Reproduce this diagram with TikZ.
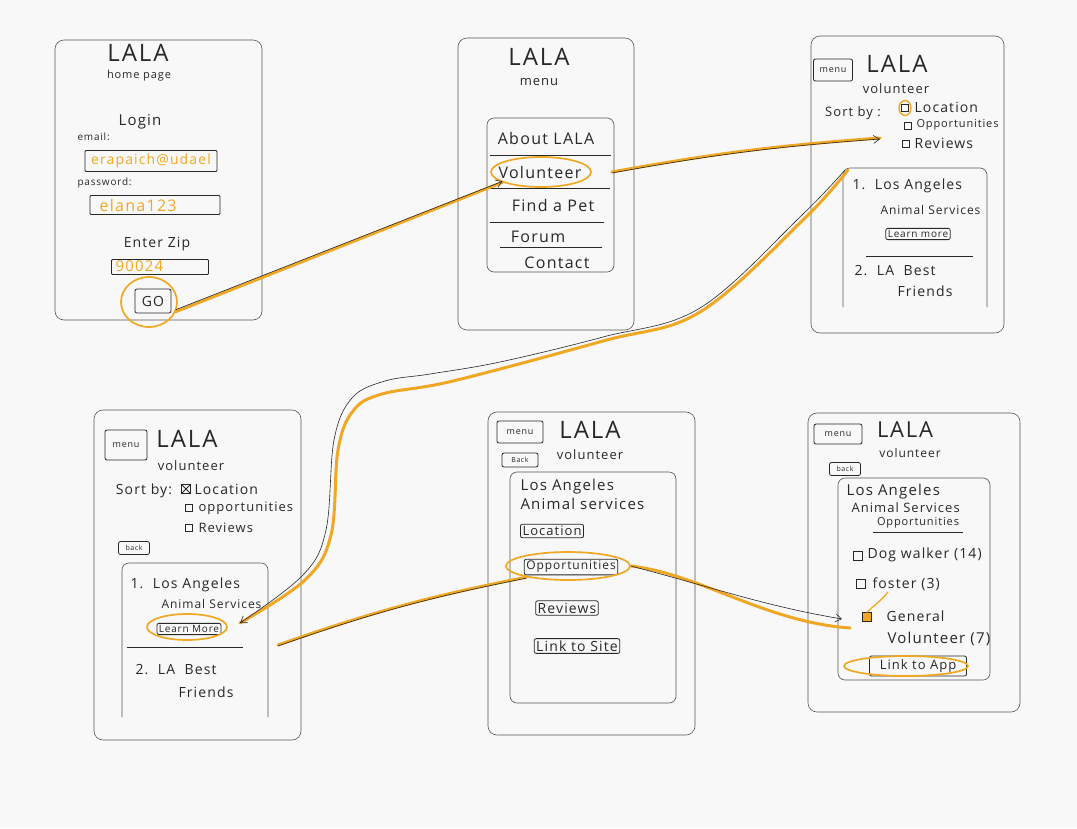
\documentclass[tikz,border=0pt]{standalone}
\usepackage{fontspec}
\setmainfont{Open Sans}[LetterSpace=8]
\usetikzlibrary{shapes.geometric,arrows.meta}
\definecolor{hl}{RGB}{240,168,36}
\definecolor{pen}{RGB}{40,40,40}
\definecolor{framec}{RGB}{85,85,85}
\definecolor{paper}{RGB}{248,248,248}
\newcommand{\fs}[1]{\fontsize{#1}{#1}\selectfont}
\begin{document}
\begin{tikzpicture}[x=1pt,y=-1pt,
 screenframe/.style={draw=framec, line width=0.6pt, rounded corners=9pt},
 innerbox/.style={draw=framec, line width=0.6pt, rounded corners=7pt},
 btn/.style={draw=pen, line width=0.8pt, rounded corners=2pt, inner sep=2pt, font=\fs{11}, text=pen},
 smallbtn/.style={btn, font=\fs{7}, inner sep=1.5pt},
 logo/.style={font=\fs{24}, text=pen},
 sub/.style={font=\fs{13}, text=pen},
 lbl/.style={font=\fs{14}, text=pen},
 item/.style={font=\fs{16}, text=pen},
 tiny/.style={font=\fs{10}, text=pen},
 field/.style={draw=pen, line width=0.8pt, rounded corners=1pt, inner sep=0pt},
 filledtxt/.style={font=\fs{15}, text=hl},
 ring/.style={draw=hl, line width=1.7pt, ellipse, inner sep=0pt},
 hlpath/.style={draw=hl, line width=3pt, line cap=round, line join=round},
 penpath/.style={draw=pen, line width=0.6pt},
 pentip/.style={penpath, -{Straight Barb[length=6pt,width=8pt]}},
 cbox/.style={draw=pen, line width=0.8pt, minimum size=7pt, inner sep=0pt},
 divider/.style={draw=pen, line width=0.7pt},
 ]
\fill[paper] (0,0) rectangle (1077,828);
\useasboundingbox (0,0) rectangle (1077,828);

% ---------------- Screen 1: home page ----------------
\draw[screenframe] (55,40) rectangle (262,320);
\node[logo] (s1logo) at (138,53) {LALA};
\node[font=\fs{11}, text=pen] (s1sub) at (139,76) {home page};
\node[font=\fs{15}, text=pen] (s1login) at (140,122) {Login};
\node[tiny,anchor=west] (s1email) at (74,137) {email:};
\node[field, minimum width=132pt, minimum height=21pt] (s1emailbox) at (151,161) {};
\node[filledtxt, font=\fs{14}] (s1emailtxt) at (151,161) {erapaich@udael};
\node[tiny,anchor=west] (s1pw) at (74,183) {password:};
\node[field, minimum width=130pt, minimum height=19pt] (s1pwbox) at (155,205) {};
\node[filledtxt, font=\fs{16}, anchor=west] (s1pwtxt) at (96,205) {elana123};
\node[font=\fs{14}, text=pen] (s1zip) at (157,244) {Enter Zip};
\node[field, minimum width=97pt, minimum height=15pt] (s1zipbox) at (160,267) {};
\node[filledtxt, anchor=west, font=\fs{15}] (s1ziptxt) at (112,266) {90024};
\node[btn, font=\fs{14}, minimum width=36pt, minimum height=24pt] (s1go) at (153,301) {GO};
\node[ring, minimum width=56pt, minimum height=50pt] (s1goring) at (149,302) {};

% ---------------- Screen 2: menu ----------------
\draw[screenframe] (458,38) rectangle (634,330);
\node[logo] (s2logo) at (539,57) {LALA};
\node[sub] (s2sub) at (539,82) {menu};
\draw[innerbox] (487,118) rectangle (614,272);
\node[item] (s2about) at (546,138) {About LALA};
\draw[divider] (490,155) -- (611,155);
\node[item] (s2vol) at (540,172) {Volunteer};
\draw[divider] (490,188) -- (610,188);
\node[item] (s2pet) at (553,205) {Find a Pet};
\draw[divider] (490,222) -- (604,222);
\node[item] (s2forum) at (538,237) {Forum};
\draw[divider] (500,247) -- (602,247);
\node[item] (s2contact) at (557,263) {Contact};
\node[ring, minimum width=100pt, minimum height=30pt] (s2volring) at (541,172) {};

% ---------------- Screen 3: volunteer list ----------------
\draw[screenframe] (811,36) rectangle (1004,333);
\node[smallbtn, font=\fs{9}, minimum width=39pt, minimum height=22pt] (s3menu) at (833,70) {menu};
\node[logo] (s3logo) at (897,64) {LALA};
\node[sub] (s3sub) at (896,89) {volunteer};
\node[font=\fs{13}, text=pen] (s3sort) at (853,113) {Sort by :};
\node[cbox] (s3cb1) at (905,108) {};
\node[ring, line width=1.4pt, minimum width=12pt, minimum height=15pt] (s3cb1ring) at (905,108) {};
\node[font=\fs{14}, text=pen, anchor=west] (s3loc) at (911,107) {Location};
\node[cbox] (s3cb2) at (908,126) {};
\node[font=\fs{11}, text=pen, anchor=west] (s3opp) at (913,125) {Opportunities};
\node[cbox] (s3cb3) at (906,144) {};
\node[font=\fs{14}, text=pen, anchor=west] (s3rev) at (911,143) {Reviews};
\draw[innerbox] (843,307) -- (843,168) -- (987,168) -- (987,307);
\coordinate (s3corner) at (848,170);
\node[lbl, anchor=west] (s3item1) at (849,186) {1.\ \ Los Angeles};
\node[font=\fs{12}, text=pen, anchor=west] (s3item1b) at (877,210) {Animal Services};
\node[btn, font=\fs{10}] (s3learn) at (918,234) {Learn more};
\draw[divider] (866,256) -- (973,256);
\node[lbl, anchor=west] (s3item2) at (851,271) {2.\ \ LA\ \ Best};
\node[lbl] (s3item2b) at (925,291) {Friends};

% ---------------- Screen 4: volunteer sorted ----------------
\draw[screenframe] (94,410) rectangle (301,740);
\node[smallbtn, font=\fs{9}, minimum width=42pt, minimum height=30pt] (s4menu) at (126,445) {menu};
\node[logo] (s4logo) at (187,439) {LALA};
\node[sub] (s4sub) at (191,466) {volunteer};
\node[font=\fs{14}, text=pen] (s4sort) at (144,491) {Sort by:};
\node[cbox, minimum size=9pt] (s4cb1) at (186,489) {};
\draw[pen, line width=1pt] (s4cb1.north west) -- (s4cb1.south east) (s4cb1.north east) -- (s4cb1.south west);
\node[font=\fs{14}, text=pen, anchor=west] (s4loc) at (191,489) {Location};
\node[cbox] (s4cb2) at (189,508) {};
\node[font=\fs{13}, text=pen, anchor=west] (s4opp) at (195,508) {opportunities};
\node[cbox] (s4cb3) at (189,528) {};
\node[font=\fs{13}, text=pen, anchor=west] (s4rev) at (195,528) {Reviews};
\node[smallbtn, minimum width=31pt, minimum height=13pt] (s4back) at (134,548) {back};
\draw[innerbox] (122,717) -- (122,563) -- (268,563) -- (268,717);
\node[lbl, anchor=west] (s4item1) at (127,585) {1.\ \ Los Angeles};
\node[font=\fs{12}, text=pen, anchor=west] (s4item1b) at (158,604) {Animal Services};
\node[btn, font=\fs{10}] (s4learn) at (189,629) {Learn More};
\node[ring, minimum width=80pt, minimum height=26pt] (s4learnring) at (187,627) {};
\draw[divider] (127,647) -- (243,647);
\node[lbl, anchor=west] (s4item2) at (132,670) {2.\ \ LA\ \ Best};
\node[lbl] (s4item2b) at (206,692) {Friends};

% ---------------- Screen 5: organisation ----------------
\draw[screenframe] (488,412) rectangle (695,735);
\node[smallbtn, font=\fs{9}, minimum width=46pt, minimum height=22pt] (s5menu) at (520,432) {menu};
\node[logo] (s5logo) at (590,430) {LALA};
\node[smallbtn, minimum width=36pt, minimum height=14pt] (s5back) at (520,460) {Back};
\node[sub] (s5sub) at (590,455) {volunteer};
\draw[innerbox] (510,472) rectangle (676,703);
\node[font=\fs{15}, text=pen, anchor=west] (s5org1) at (517,487) {Los Angeles};
\node[font=\fs{15}, text=pen, anchor=west] (s5org2) at (517,504) {Animal services};
\node[btn, font=\fs{13}] (s5loc) at (552,531) {Location};
\node[btn, font=\fs{12}] (s5opp) at (571,567) {Opportunities};
\node[ring, minimum width=124pt, minimum height=28pt] (s5oppring) at (568,566) {};
\node[btn, font=\fs{14}] (s5rev) at (567,608) {Reviews};
\node[btn, font=\fs{14}] (s5link) at (577,646) {Link to Site};

% ---------------- Screen 6: opportunities ----------------
\draw[screenframe] (808,413) rectangle (1020,712);
\node[smallbtn, font=\fs{9}, minimum width=48pt, minimum height=20pt] (s6menu) at (838,434) {menu};
\node[logo, font=\fs{22}] (s6logo) at (905,430) {LALA};
\node[font=\fs{12}, text=pen] (s6sub) at (910,453) {volunteer};
\node[smallbtn, minimum width=31pt, minimum height=13pt] (s6back) at (845,469) {back};
\draw[innerbox] (838,478) rectangle (990,680);
\node[font=\fs{15}, text=pen, anchor=west] (s6org1) at (843,492) {Los Angeles};
\node[font=\fs{13}, text=pen, anchor=west] (s6org2) at (848,508) {Animal Services};
\node[font=\fs{11}, text=pen] (s6head) at (918,523) {Opportunities};
\draw[divider] (s6head.south west) -- (s6head.south east);
\node[cbox, minimum size=9pt] (s6cb1) at (858,556) {};
\node[lbl, anchor=west] (s6dog) at (864,555) {Dog walker (14)};
\node[cbox, minimum size=9pt] (s6cb2) at (861,584) {};
\node[lbl, anchor=west] (s6foster) at (869,584) {foster (3)};
\node[cbox, minimum size=9pt, fill=hl] (s6cb3) at (867,617) {};
\node[lbl, anchor=west] (s6gen1) at (883,616) {General};
\node[font=\fs{15}, text=pen, anchor=west] (s6gen2) at (884,639) {Volunteer (7)};
\node[btn, font=\fs{13}, minimum width=97pt, minimum height=20pt] (s6app) at (918,666) {Link to App};
\node[ring, minimum width=124pt, minimum height=20pt] (s6appring) at (906,666) {};
\draw[hl, line width=1.3pt, line cap=round] (888,592) .. controls (880,602) and (872,607) .. (s6cb3.north);

% ---------------- connectors ----------------
% GO -> Volunteer
\draw[hlpath] (s1goring.-20) -- (s2volring.195);
\draw[pentip] ([yshift=2pt]s1goring.-20) -- ([yshift=1pt]s2volring.195);
% Volunteer -> volunteer list
\coordinate (c2end) at (880,138);
\draw[hlpath] ([xshift=20pt]s2volring.east) to[bend left=3] (c2end);
\draw[pentip] ([xshift=20pt,yshift=-1pt]s2volring.east) to[bend left=3] ([yshift=-1pt]c2end);
% volunteer list -> Learn More
\coordinate (c3end) at (240,623);
\draw[hlpath] plot[smooth, tension=0.6] coordinates {(s3corner) (803,220) (700,312) (603,341) (453,381) (382,394) (353,411) (338,450) (331,535) (305,580) (c3end)};
\draw[pentip] plot[smooth, tension=0.6] coordinates {([xshift=-3pt]s3corner) (800,217) (700,308) (603,337) (500,362) (430,374) (385,381) (352,398) (334,440) (326,530) (303,575) (c3end)};
% Learn More -> Opportunities
\coordinate (c4start) at (278,645);
\draw[hlpath] (c4start) to[bend left=4] (s5oppring.195);
\draw[penpath] ([yshift=-1pt]c4start) to[bend left=4] ([yshift=-1pt]s5oppring.195);
% Opportunities -> General Volunteer
\coordinate (c5end) at (850,628);
\coordinate (c5tip) at (842,619);
\draw[hlpath] (s5oppring.east) .. controls (700,574) and (765,622) .. (c5end);
\draw[pentip] (s5oppring.east) .. controls (715,588) and (765,606) .. (c5tip);
\end{tikzpicture}
\end{document}
